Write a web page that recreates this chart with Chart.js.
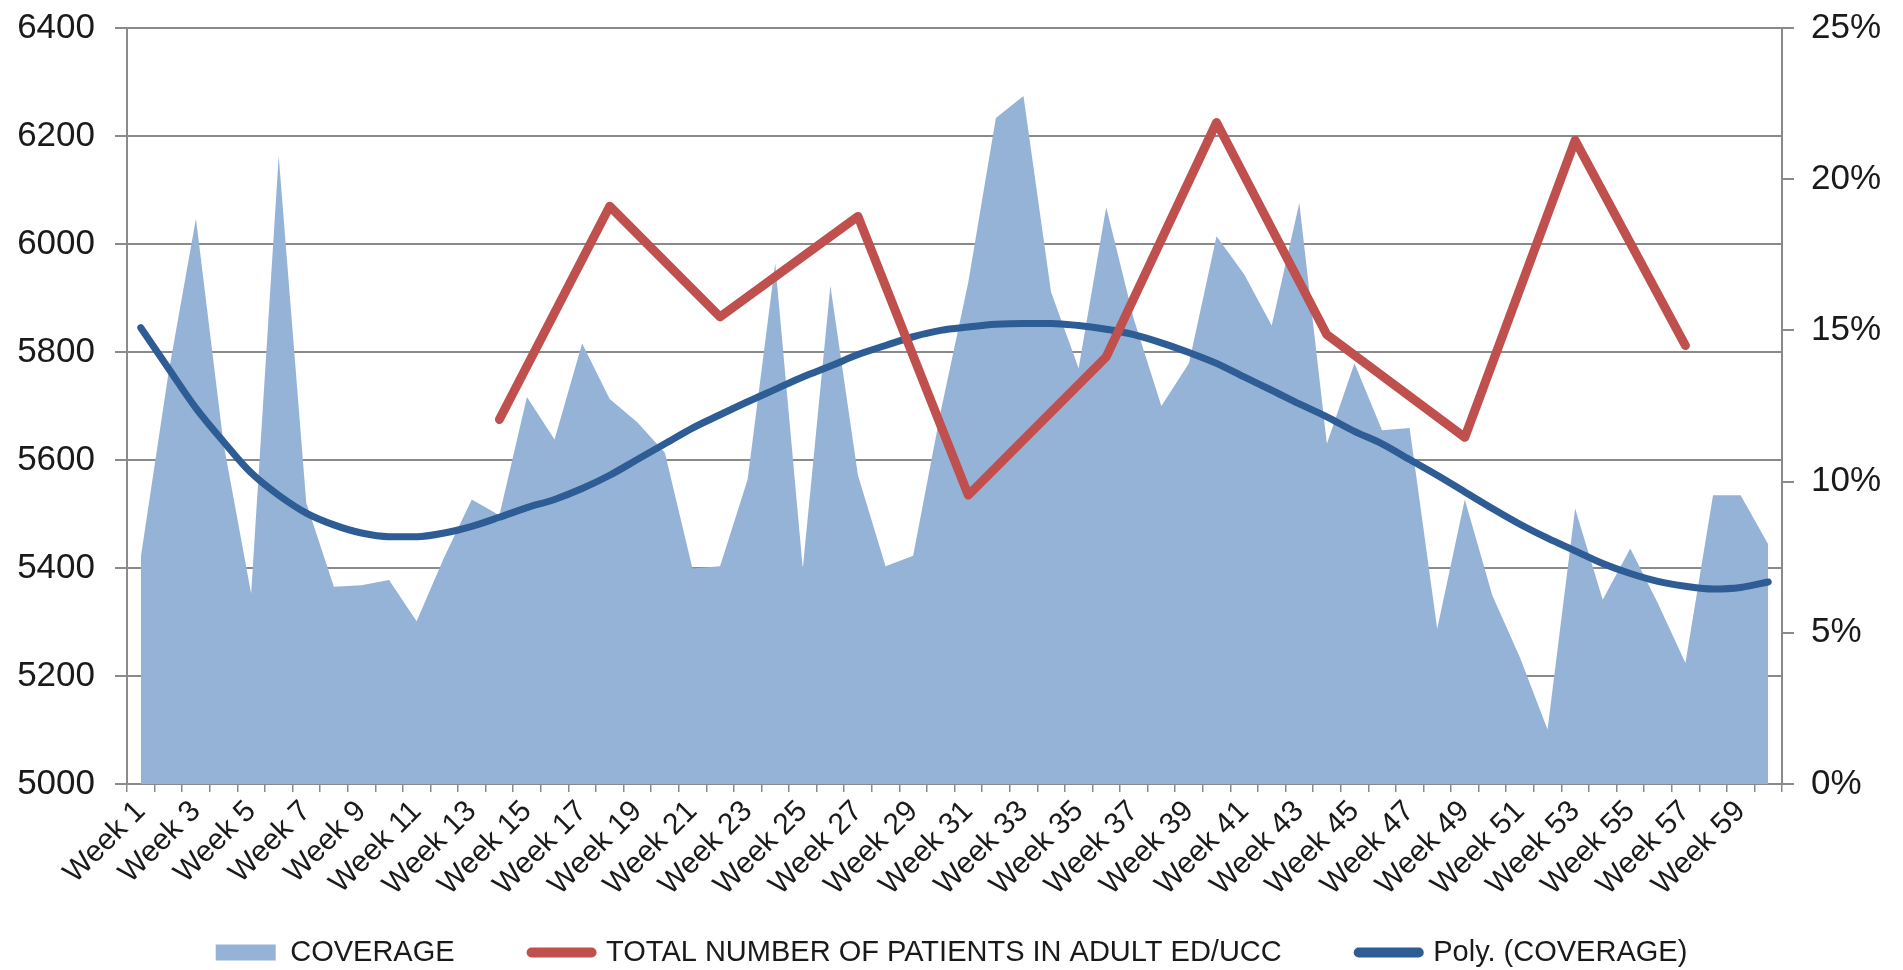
<!DOCTYPE html>
<html>
<head>
<meta charset="utf-8">
<script src="https://cdn.jsdelivr.net/npm/chart.js@4/dist/chart.umd.min.js"></script>
<style>
  html, body { margin: 0; padding: 0; background: #ffffff; }
  #wrap { width: 1903px; height: 970px; }
</style>
</head>
<body>
<div id="wrap"><canvas id="c" width="1903" height="970"></canvas></div>
<script>
const weeks = [
  'Week 1','Week 2','Week 3','Week 4','Week 5','Week 6','Week 7','Week 8','Week 9','Week 10',
  'Week 11','Week 12','Week 13','Week 14','Week 15','Week 16','Week 17','Week 18','Week 19','Week 20',
  'Week 21','Week 22','Week 23','Week 24','Week 25','Week 26','Week 27','Week 28','Week 29','Week 30',
  'Week 31','Week 32','Week 33','Week 34','Week 35','Week 36','Week 37','Week 38','Week 39','Week 40',
  'Week 41','Week 42','Week 43','Week 44','Week 45','Week 46','Week 47','Week 48','Week 49','Week 50',
  'Week 51','Week 52','Week 53','Week 54','Week 55','Week 56','Week 57','Week 58','Week 59','Week 60'
];

// COVERAGE (%), right axis
const coverage = [
  7.5, 13.57, 18.7, 11.25, 6.3, 20.77, 9.29, 6.52, 6.57, 6.75,
  5.38, 7.5, 9.41, 8.89, 12.8, 11.39, 14.57, 12.73, 11.96, 10.95,
  7.13, 7.2, 10.07, 17.23, 7.13, 16.48, 10.21, 7.2, 7.55, 12.32,
  16.59, 22.02, 22.75, 16.27, 13.75, 19.07, 15.38, 12.5, 13.91, 18.11,
  16.86, 15.16, 19.21, 11.25, 13.91, 11.7, 11.77, 5.13, 9.41, 6.23,
  4.18, 1.8, 9.11, 6.09, 7.79, 5.98, 4.0, 9.55, 9.55, 7.93
];

// TOTAL NUMBER OF PATIENTS IN ADULT ED/UCC, left axis (monthly points)
const patients = [
  null, null, null, null, null, null, null, null, null, null,
  null, null, null, 5675, null, null, null, 6070, null, null,
  null, 5865, null, null, null, null, 6051, null, null, null,
  5535, null, null, null, null, 5791, null, null, null, 6225,
  null, null, null, 5832, null, null, null, null, 5642, null,
  null, null, 6192, null, null, null, 5812, null, null, null
];

// Poly. (COVERAGE) trend line (%), right axis
const polyCoverage = [
  15.09, 13.75, 12.43, 11.32, 10.29, 9.55, 8.96, 8.57, 8.30, 8.18,
  8.18, 8.30, 8.52, 8.82, 9.14, 9.41, 9.77, 10.21, 10.73, 11.25,
  11.77, 12.21, 12.64, 13.05, 13.46, 13.82, 14.20, 14.50, 14.79, 15.00,
  15.11, 15.20, 15.23, 15.23, 15.16, 15.04, 14.86, 14.59, 14.27, 13.91,
  13.46, 13.02, 12.57, 12.14, 11.66, 11.25, 10.73, 10.21, 9.66, 9.11,
  8.59, 8.13, 7.71, 7.29, 6.96, 6.70, 6.54, 6.45, 6.50, 6.68
];

const leftTicks = [5000, 5200, 5400, 5600, 5800, 6000, 6200, 6400];
const rightTicks = [0, 5, 10, 15, 20, 25];

const FONT = "'Liberation Sans', Arial, sans-serif";
const GRID = '#8a8a8a';
const TEXT = '#1a1a1a';
const AREA = '#95b3d7';
const RED = '#c0504d';
const BLUE = '#2e5c94';

// keeps the legend low in the canvas while the x axis keeps room for its rotated labels
const legendPlace = {
  id: 'legendPlace',
  afterLayout(chart) {
    const lg = chart.legend;
    if (!lg) return;
    lg.top = 861;
    lg.height = 116;
    lg.bottom = lg.top + lg.height;
  }
};

function noPad(s) {
  s.paddingTop = 0;
  s.paddingBottom = 0;
}

new Chart(document.getElementById('c'), {
  type: 'line',
  plugins: [legendPlace],
  data: {
    labels: weeks,
    datasets: [
      {
        label: 'COVERAGE',
        data: coverage,
        yAxisID: 'y1',
        fill: 'origin',
        backgroundColor: AREA,
        borderColor: AREA,
        borderWidth: 0,
        pointRadius: 0,
        tension: 0,
        order: 3
      },
      {
        label: 'TOTAL NUMBER OF PATIENTS IN ADULT ED/UCC',
        data: patients,
        yAxisID: 'y',
        spanGaps: true,
        fill: false,
        borderColor: RED,
        backgroundColor: RED,
        borderWidth: 9,
        borderJoinStyle: 'round',
        borderCapStyle: 'round',
        pointRadius: 0,
        tension: 0,
        order: 1
      },
      {
        label: 'Poly. (COVERAGE)',
        data: polyCoverage,
        yAxisID: 'y1',
        fill: false,
        borderColor: BLUE,
        backgroundColor: BLUE,
        borderWidth: 7,
        borderCapStyle: 'round',
        pointRadius: 0,
        tension: 0.4,
        cubicInterpolationMode: 'monotone',
        order: 2
      }
    ]
  },
  options: {
    responsive: false,
    animation: false,
    devicePixelRatio: 1,
    layout: { padding: { top: 28, left: 0, right: 0, bottom: 0 } },
    plugins: {
      tooltip: { enabled: false },
      title: { display: false },
      legend: {
        display: true,
        position: 'bottom',
        maxHeight: 61,
        labels: {
          font: { family: FONT, size: 29 },
          color: TEXT,
          padding: 77,
          usePointStyle: true,
          pointStyleWidth: 60,
          boxHeight: 16,
          generateLabels: (chart) => {
            const ds = chart.data.datasets;
            return [
              { text: ds[0].label, fillStyle: AREA, strokeStyle: AREA, lineWidth: 0, pointStyle: 'rect', datasetIndex: 0, fontColor: TEXT },
              { text: ds[1].label, fillStyle: RED, strokeStyle: RED, lineWidth: 10, lineCap: 'round', pointStyle: 'line', datasetIndex: 1, fontColor: TEXT },
              { text: ds[2].label, fillStyle: BLUE, strokeStyle: BLUE, lineWidth: 10, lineCap: 'round', pointStyle: 'line', datasetIndex: 2, fontColor: TEXT }
            ];
          }
        }
      }
    },
    scales: {
      x: {
        type: 'category',
        offset: true,
        afterFit: (s) => { s.height = 125; s.paddingLeft = 0; s.paddingRight = 0; },
        grid: {
          display: true,
          offset: true,
          drawOnChartArea: false,
          drawTicks: true,
          tickLength: 8,
          color: GRID,
          lineWidth: 1.5
        },
        border: { display: true, color: GRID, width: 2 },
        ticks: {
          autoSkip: false,
          minRotation: 45,
          maxRotation: 45,
          padding: 2,
          color: TEXT,
          font: { family: FONT, size: 30 },
          callback: function (value, index) {
            return index % 2 === 0 ? weeks[index] : '';
          }
        }
      },
      y: {
        position: 'left',
        min: 5000,
        max: 6400,
        afterFit: (s) => { s.width = 127; noPad(s); },
        afterBuildTicks: (s) => { s.ticks = leftTicks.map(v => ({ value: v })); },
        grid: {
          display: true,
          drawOnChartArea: true,
          drawTicks: true,
          tickLength: 12,
          color: GRID,
          lineWidth: 2
        },
        border: { display: true, color: GRID, width: 2 },
        ticks: {
          padding: 20,
          color: TEXT,
          font: { family: FONT, size: 35 },
          callback: (v) => String(v)
        }
      },
      y1: {
        position: 'right',
        min: 0,
        max: 25,
        afterFit: (s) => { s.width = 121; noPad(s); },
        afterBuildTicks: (s) => { s.ticks = rightTicks.map(v => ({ value: v })); },
        grid: {
          display: true,
          drawOnChartArea: false,
          drawTicks: true,
          tickLength: 12,
          color: GRID,
          lineWidth: 2
        },
        border: { display: true, color: GRID, width: 2 },
        ticks: {
          padding: 17,
          color: TEXT,
          font: { family: FONT, size: 35 },
          callback: (v) => v + '%'
        }
      }
    }
  }
});
</script>
</body>
</html>
